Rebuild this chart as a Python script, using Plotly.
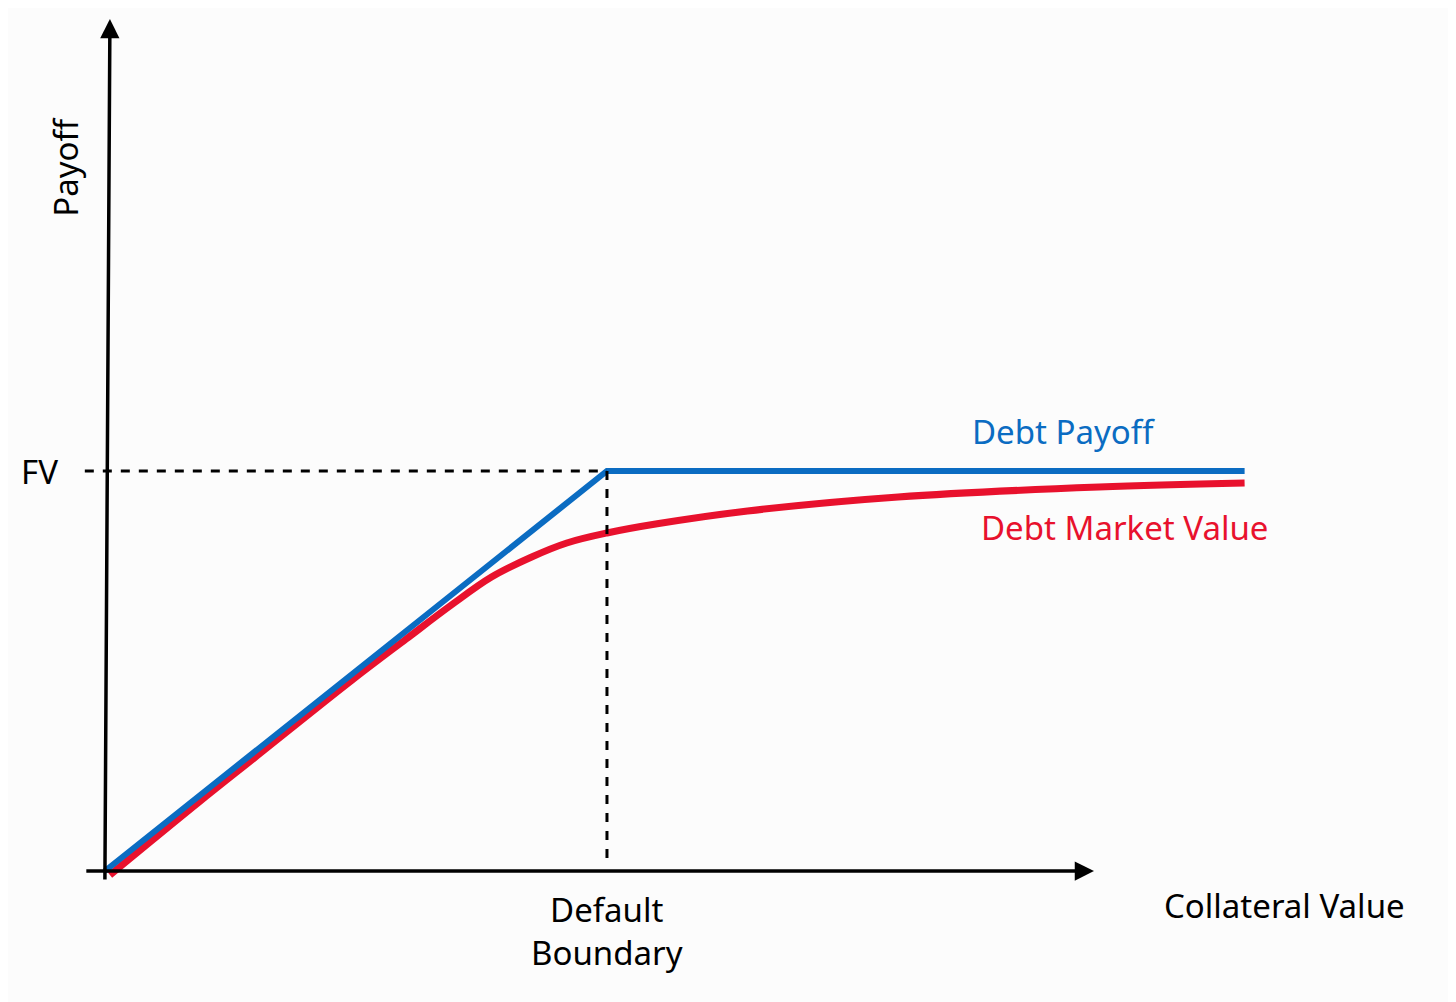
import plotly.graph_objects as go

# Data (units: face value FV = 100, default boundary = 100)
payoff_x = [0, 100, 227]
payoff_y = [0, 100, 100]
market_x = [1, 19, 30, 49, 60, 69, 77, 85, 92, 100, 110, 128, 158, 198, 227]
market_y = [-1, 17.5, 28.5, 47.5, 58, 66.5, 73.5, 78.5, 82, 84.5, 86.8, 90, 93.5, 96, 97]
FV = 100
DEFAULT_B = 100

BLUE = "#0b6cc2"
RED = "#e8112d"
FONT = "Comic Sans MS, Noto Sans, sans-serif"

fig = go.Figure()
fig.add_trace(go.Scatter(x=market_x, y=market_y, mode="lines", line=dict(color=RED, width=7, shape="spline", smoothing=1.0)))
fig.add_trace(go.Scatter(x=payoff_x, y=payoff_y, mode="lines", line=dict(color=BLUE, width=6)))

fig.add_shape(type="line", x0=-4, y0=FV, x1=DEFAULT_B, y1=FV, line=dict(color="black", width=3, dash="dash"))
fig.add_shape(type="line", x0=DEFAULT_B, y0=FV, x1=DEFAULT_B, y1=1, line=dict(color="black", width=3, dash="dash"))

fig.add_annotation(x=1, y=213, ax=0, ay=-2.5, xref="x", yref="y", axref="x", ayref="y",
                   showarrow=True, arrowhead=2, arrowsize=1.1, arrowwidth=3.5, arrowcolor="black", text="")
fig.add_annotation(x=197, y=0, ax=-4, ay=0, xref="x", yref="y", axref="x", ayref="y",
                   showarrow=True, arrowhead=2, arrowsize=1.1, arrowwidth=3.5, arrowcolor="black", text="")

def txt(x, y, s, color="black", size=33, angle=0):
    fig.add_annotation(x=x, y=y, text=s, showarrow=False, font=dict(family=FONT, size=size, color=color), textangle=angle)

txt(-8, 176, "Payoff", angle=-90)
txt(-13, FV, "FV")
txt(100, -15, "Default<br>Boundary")
txt(235, -8.5, "Collateral Value")
txt(191, 110, "Debt Payoff", BLUE)
txt(203, 86, "Debt Market Value", RED)

fig.update_layout(
    width=1456, height=1002, margin=dict(l=0, r=0, t=0, b=0),
    paper_bgcolor="#fcfcfc", plot_bgcolor="#fcfcfc", showlegend=False,
    xaxis=dict(range=[-19.3, 270.7], visible=False),
    yaxis=dict(range=[-34.75, 215.75], visible=False),
)
fig.write_html("out.html")
